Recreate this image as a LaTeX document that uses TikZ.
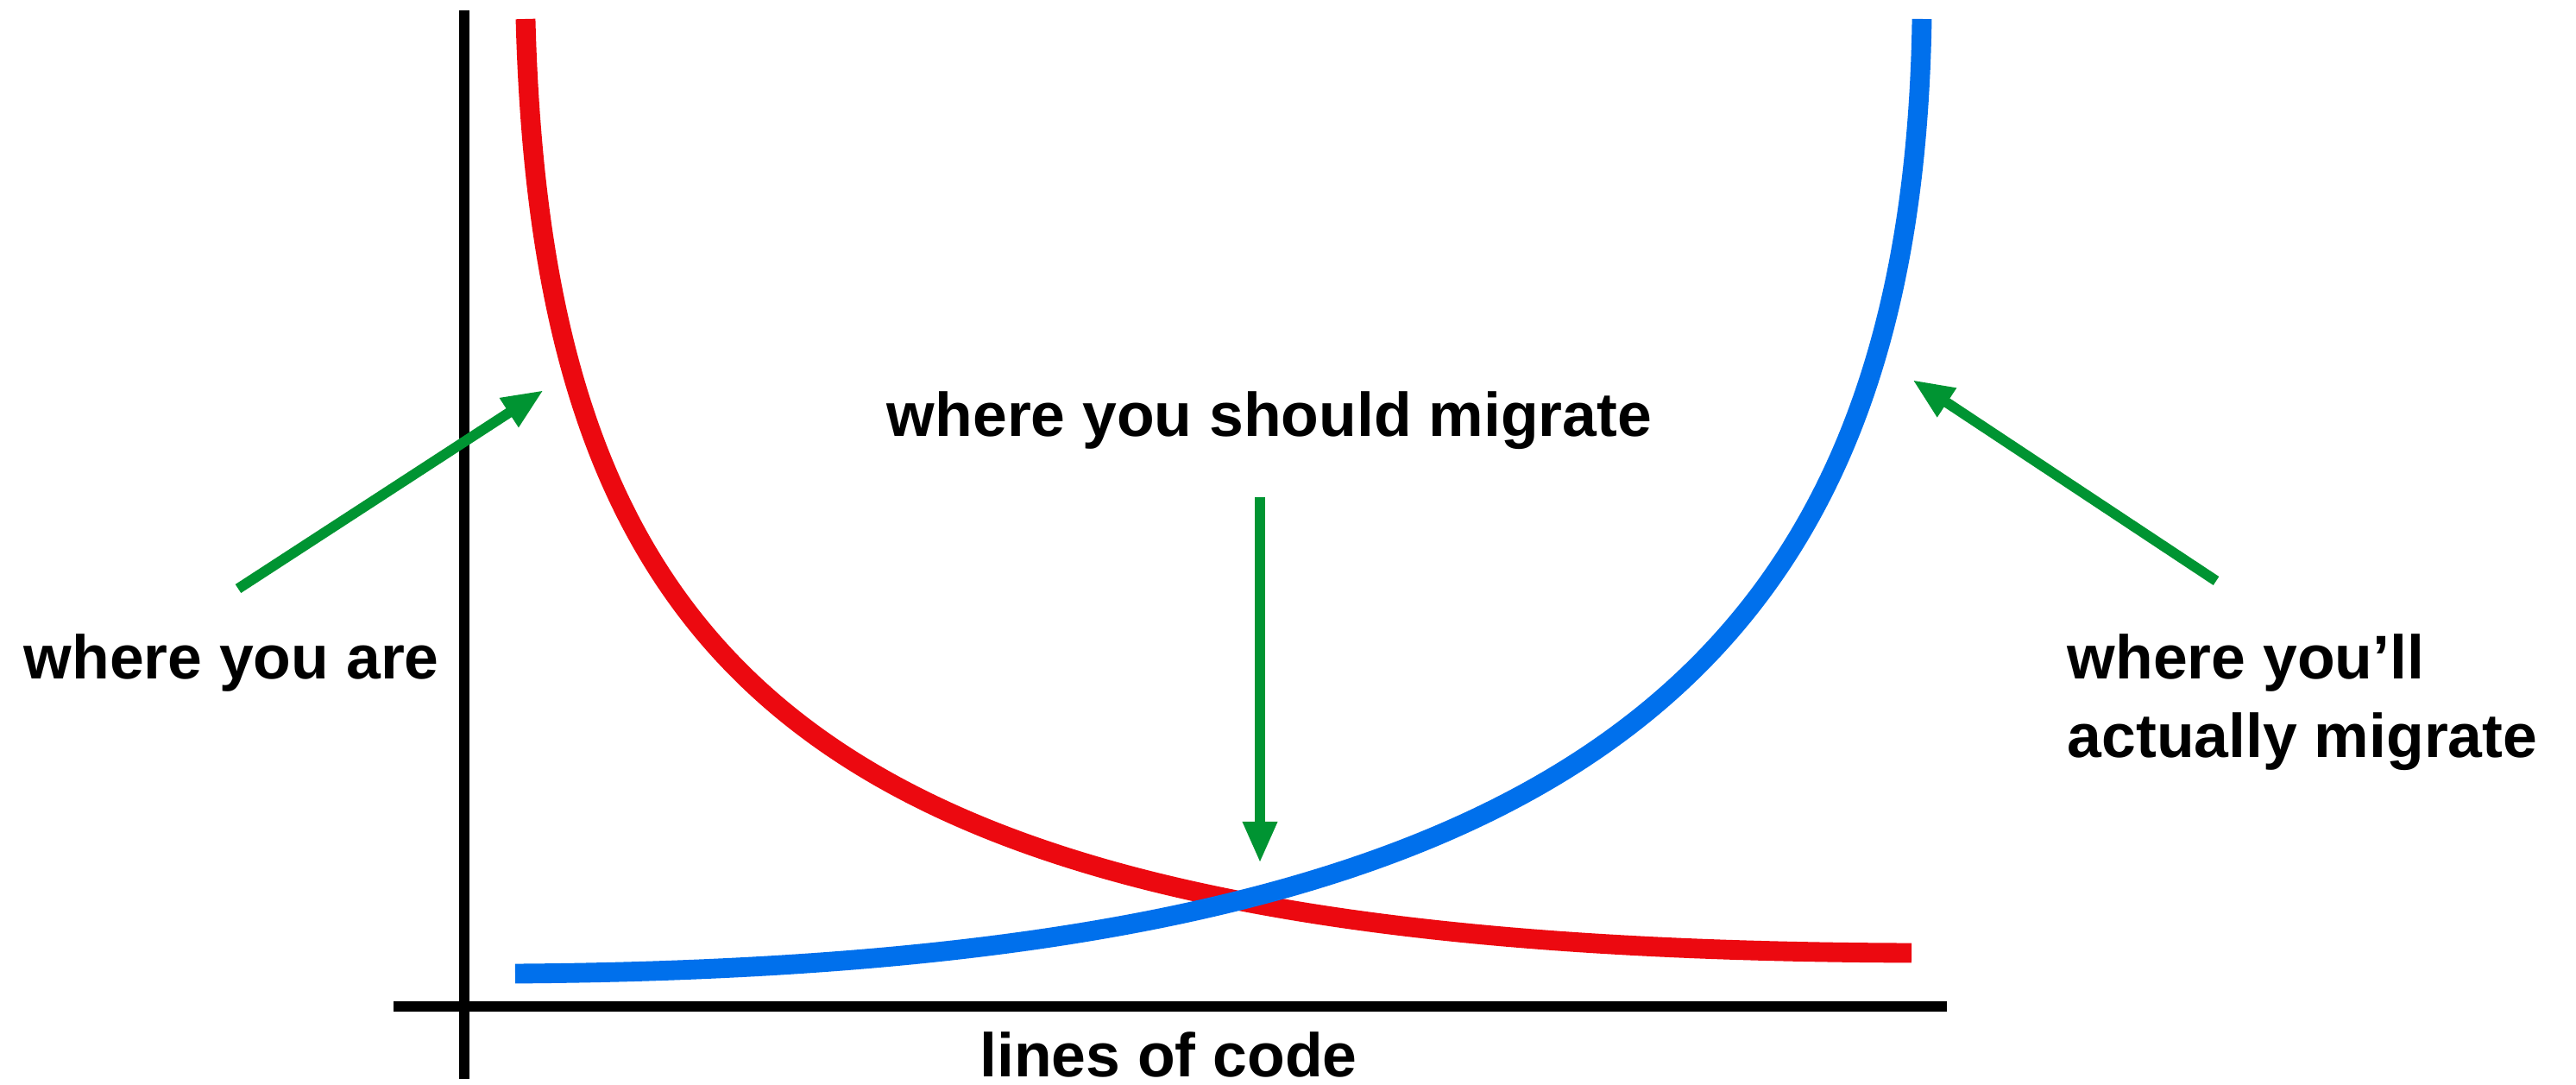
\documentclass[tikz,border=0pt]{standalone}
\usepackage{fontspec}
\setmainfont{Liberation Sans}
\usetikzlibrary{arrows.meta}

\definecolor{curvered}{RGB}{236,9,16}
\definecolor{curveblue}{RGB}{0,112,236}
\definecolor{pointgreen}{RGB}{0,148,50}

\tikzset{
  axisline/.style={line width=3.4pt, black, line cap=butt},
  costcurve/.style={line width=6.5pt, line cap=butt, line join=round},
  pointer/.style={line width=3.4pt, pointgreen, line cap=butt,
    -{Triangle[length=0.48cm, width=0.37cm]}},
  label/.style={inner sep=0pt, font=\fontsize{20.35pt}{25.9pt}\selectfont\bfseries}
}

\begin{document}
\begin{tikzpicture}[x=1cm, y=-1cm]
  \useasboundingbox (0,0) rectangle (29.85,12.57);

  % axes
  \coordinate (ytop) at (5.38,0.12);
  \coordinate (ybot) at (5.38,12.50);
  \coordinate (xleft) at (4.56,11.66);
  \coordinate (xright) at (22.56,11.66);
  \draw[axisline] (ytop) -- (ybot);
  \draw[axisline] (xleft) -- (xright);

  % falling curve
  \coordinate (redTop) at (6.09,0.22);
  \coordinate (redEnd) at (22.15,11.04);
  \draw[costcurve, curvered] (redTop) .. controls (6.30,8.20) and (9.80,11.00) .. (redEnd);

  % rising curve
  \coordinate (blueTop) at (22.27,0.22);
  \coordinate (blueEnd) at (5.97,11.28);
  \draw[costcurve, curveblue] (blueTop) .. controls (22.15,8.30) and (17.50,11.20) .. (blueEnd);

  % labels
  \node[label, anchor=base] (should) at (14.71,5.06) {where you should migrate};
  \node[label, anchor=base west] (are) at (0.27,7.87) {where you are};
  \node[label, anchor=base west, align=left] (actual) at (23.95,8.78)
    {where you’ll\\actually migrate};
  \node[label, anchor=base] (loc) at (13.54,12.48) {lines of code};

  % pointers
  \coordinate (areTail) at (2.76,6.82);
  \coordinate (areTip) at (6.30,4.52);
  \coordinate (shouldTail) at (14.60,5.76);
  \coordinate (shouldTip) at (14.60,10.00);
  \coordinate (actualTail) at (25.68,6.73);
  \coordinate (actualTip) at (22.16,4.40);
  \draw[pointer] (areTail) -- (areTip);
  \draw[pointer] (shouldTail) -- (shouldTip);
  \draw[pointer] (actualTail) -- (actualTip);
\end{tikzpicture}
\end{document}
